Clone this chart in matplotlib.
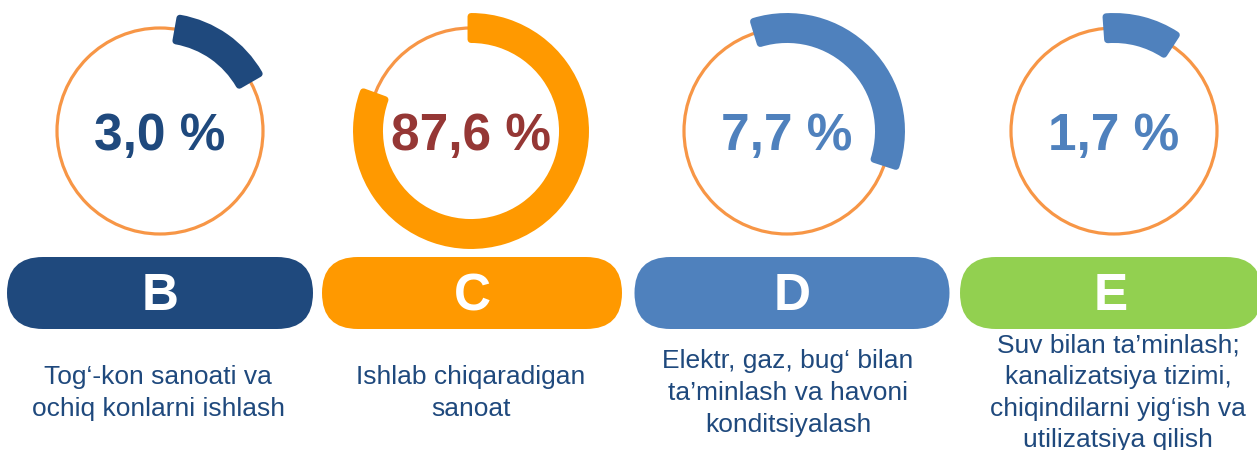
import numpy as np
import matplotlib.pyplot as plt
from matplotlib.patches import Wedge, Circle, FancyBboxPatch

plt.rcParams['font.family'] = ['Liberation Sans', 'DejaVu Sans']

# data
letters = ['B', 'C', 'D', 'E']
values = [3.0, 87.6, 7.7, 1.7]
descriptions = [
    'Tog‘-kon sanoati va\nochiq konlarni ishlash',
    'Ishlab chiqaradigan\nsanoat',
    'Elektr, gaz, bug‘ bilan\nta’minlash va havoni\nkonditsiyalash',
    'Suv bilan ta’minlash;\nkanalizatsiya tizimi,\nchiqindilarni yig‘ish va\nutilizatsiya qilish',
]
# arcs as drawn (degrees clockwise from 12 o'clock)
arc_start = [10, 0, -17, -4]
arc_end = [60, 290, 108, 33]

# layout (pixels)
ring_x = [160, 471, 787, 1114]
ring_y = 131
pill_x = [160, 472, 792, 1111]
pill_w = [306, 300, 315, 302]
pill_y = 293
pill_h = 72
text_x = [158, 471, 788, 1118]

pill_colors = ['#1F497D', '#FF9900', '#4F81BD', '#92D050']
arc_colors = ['#1F497D', '#FF9900', '#4F81BD', '#4F81BD']
pct_colors = ['#1F497D', '#953735', '#4F81BD', '#4F81BD']
ring_color = '#F79646'
desc_color = '#1F497D'

fig = plt.figure(figsize=(12.57, 4.5), dpi=100)
ax = fig.add_axes([0, 0, 1, 1])
ax.set_xlim(0, 1257)
ax.set_ylim(450, 0)
ax.set_aspect('equal')
ax.axis('off')

for i in range(4):
    cx = ring_x[i]
    ax.add_patch(Circle((cx, ring_y), 103, fill=False, ec=ring_color, lw=2.3))
    ax.add_patch(Wedge((cx, ring_y), 114.5, arc_start[i] - 90, arc_end[i] - 90,
                       width=23, fc=arc_colors[i], ec=arc_colors[i], lw=5,
                       joinstyle='round'))
    pct = f'{values[i]:.1f}'.replace('.', ',') + ' %'
    ax.text(cx, ring_y + 6, pct, ha='center', va='center', fontsize=37,
            fontweight='bold', color=pct_colors[i])

    w = pill_w[i]
    ax.add_patch(FancyBboxPatch((pill_x[i] - w / 2, pill_y - pill_h / 2), w, pill_h,
                                boxstyle=f'round,pad=0,rounding_size={pill_h / 2}',
                                fc=pill_colors[i], ec='none'))
    ax.text(pill_x[i], pill_y + 4, letters[i], ha='center', va='center',
            fontsize=37, fontweight='bold', color='white')

    ax.text(text_x[i], 393, descriptions[i], ha='center', va='center',
            fontsize=19, color=desc_color, linespacing=1.4)

fig.savefig('out.png', dpi=100)
